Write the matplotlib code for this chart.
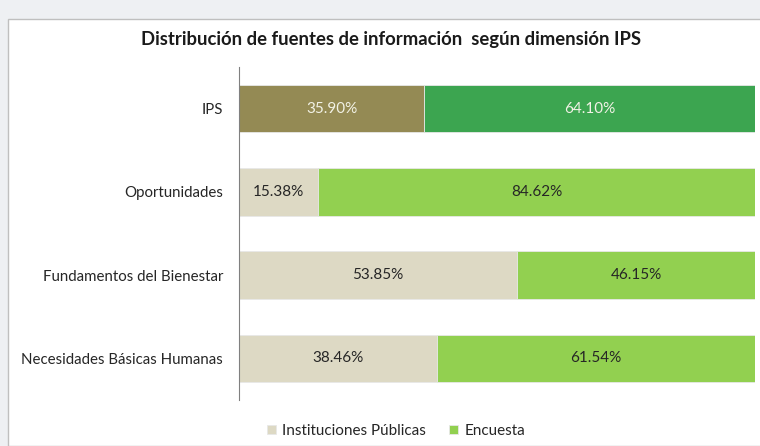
import matplotlib.pyplot as plt
from matplotlib.patches import Rectangle

# data
categorias = ["IPS", "Oportunidades", "Fundamentos del Bienestar", "Necesidades Básicas Humanas"]
instituciones = [35.90, 15.38, 53.85, 38.46]
encuesta = [64.10, 84.62, 46.15, 61.54]

col_inst = ["#948a54", "#ddd9c4", "#ddd9c4", "#ddd9c4"]
col_enc = ["#3ca550", "#92d050", "#92d050", "#92d050"]
txt_col = ["#f2f2e6", "#262626", "#262626", "#262626"]

plt.rcParams['font.family'] = ['Lato', 'DejaVu Sans']

fig = plt.figure(figsize=(7.6, 4.46), dpi=100)
fig.patch.set_facecolor("#eef0f3")
# white chart area like the spreadsheet frame
fig.patches.append(Rectangle((8 / 760, 0), 1, 1 - 19 / 446, transform=fig.transFigure,
                             facecolor="white", edgecolor="#bfbfbf", lw=1, zorder=-5))

ax = fig.add_axes([239 / 760, 1 - 400 / 446, (755 - 239) / 760, (400 - 67) / 446])
ax.set_facecolor("none")
ax.set_zorder(5)

y = range(len(categorias))
b1 = ax.barh(y, instituciones, height=0.57, color=col_inst, edgecolor="#e8e8e8", lw=0.6,
             label="Instituciones Públicas")
b2 = ax.barh(y, encuesta, left=instituciones, height=0.57, color=col_enc, edgecolor="#e8e8e8",
             lw=0.6, label="Encuesta")

for i in y:
    ax.text(instituciones[i] / 2, i, f"{instituciones[i]:.2f}%", ha="center", va="center",
            fontsize=11, color=txt_col[i])
    ax.text(instituciones[i] + encuesta[i] / 2, i, f"{encuesta[i]:.2f}%", ha="center",
            va="center", fontsize=11, color=txt_col[i])

ax.set_xlim(0, 100)
ax.set_ylim(3.5, -0.5)
ax.set_yticks(list(y))
ax.set_yticklabels(categorias, fontsize=10.8, color="#262626")
ax.tick_params(axis="y", length=0, pad=11.5)
ax.set_xticks([])
for s in ["top", "right", "bottom"]:
    ax.spines[s].set_visible(False)
ax.spines["left"].set_color("#808080")
ax.spines["left"].set_linewidth(0.8)

fig.text(391 / 760, 1 - 40 / 446, "Distribución de fuentes de información  según dimensión IPS",
         ha="center", va="center", fontsize=13.3, fontweight="bold", color="#1a1a1a")

leg = fig.legend(handles=[b1[1], b2[1]], labels=["Instituciones Públicas", "Encuesta"],
                 loc="center", bbox_to_anchor=(396 / 760, 1 - 431 / 446), ncol=2, frameon=False,
                 fontsize=11, handlelength=0.6, handleheight=0.6, handletextpad=0.4,
                 columnspacing=1.5)
for t in leg.get_texts():
    t.set_color("#262626")

fig.savefig("out.png", dpi=100, facecolor=fig.get_facecolor())
